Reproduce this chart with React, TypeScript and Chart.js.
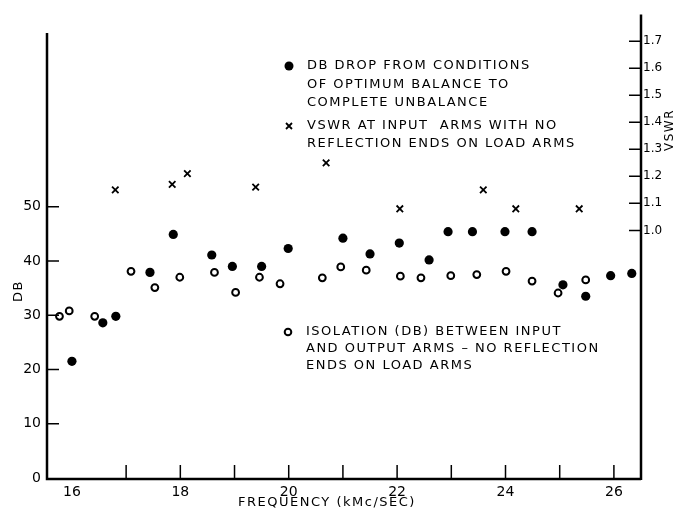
import React, { useEffect, useRef } from "react";
import { Chart, registerables } from "chart.js";

Chart.register(...registerables);

// DB drop from optimum balance to complete unbalance (filled circles)
const dropFreq = [16.0, 16.57, 16.81, 17.44, 17.87, 18.58, 18.96, 19.5, 19.99, 21.0, 21.5, 22.04, 22.59, 22.94, 23.39, 23.99, 24.49, 25.06, 25.48, 25.94, 26.33];
const dropDb = [21.5, 28.6, 29.8, 37.9, 44.9, 41.1, 39.0, 39.0, 42.3, 44.2, 41.3, 43.3, 40.2, 45.4, 45.4, 45.4, 45.4, 35.6, 33.5, 37.3, 37.7];

// Isolation (DB) between input and output arms (open circles)
const isoFreq = [15.77, 15.95, 16.42, 17.09, 17.53, 17.99, 18.63, 19.02, 19.46, 19.84, 20.62, 20.96, 21.43, 22.06, 22.44, 22.99, 23.47, 24.01, 24.49, 24.97, 25.48];
const isoDb = [29.8, 30.8, 29.8, 38.1, 35.1, 37.0, 37.9, 34.2, 37.0, 35.8, 36.9, 38.9, 38.3, 37.2, 36.9, 37.3, 37.5, 38.1, 36.3, 34.1, 36.5];

// VSWR at input arms (x marks, right axis)
const vswrFreq = [16.8, 17.85, 18.13, 19.39, 20.69, 22.05, 23.59, 24.19, 25.36];
const vswrVal = [1.15, 1.17, 1.21, 1.16, 1.25, 1.08, 1.15, 1.08, 1.08];

// Axis ticks
const freqTicks = [16, 17, 18, 19, 20, 21, 22, 23, 24, 25, 26];
const freqLabelled = [16, 18, 20, 22, 24, 26];
const dbTicks = [0, 10, 20, 30, 40, 50];
const vswrTicks = [1.0, 1.1, 1.2, 1.3, 1.4, 1.5, 1.6, 1.7];

const FONT = "'DejaVu Sans', sans-serif";

const legendDrop = ["DB DROP FROM CONDITIONS", "OF OPTIMUM BALANCE TO", "COMPLETE UNBALANCE"];
const legendVswr = ["VSWR AT INPUT  ARMS WITH NO", "REFLECTION ENDS ON LOAD ARMS"];
const legendIso = ["ISOLATION (DB) BETWEEN INPUT", "AND OUTPUT ARMS \u2013 NO REFLECTION", "ENDS ON LOAD ARMS"];

const decorPlugin = {
  id: "decor",
  afterDraw(chart: any) {
    const ctx = chart.ctx as CanvasRenderingContext2D;
    const { left, right, top, bottom } = chart.chartArea;
    const xs = chart.scales.x;
    const ys = chart.scales.y;
    const y2 = chart.scales.y2;
    ctx.save();
    ctx.strokeStyle = "#000";
    ctx.fillStyle = "#000";
    ctx.lineCap = "butt";

    // axis lines
    ctx.lineWidth = 2.5;
    ctx.beginPath();
    ctx.moveTo(left, ys.getPixelForValue(82));
    ctx.lineTo(left, bottom + 1);
    ctx.lineTo(right, bottom + 1);
    ctx.moveTo(right, top);
    ctx.lineTo(right, bottom + 2);
    ctx.stroke();

    // inward tick marks
    ctx.lineWidth = 1.5;
    ctx.beginPath();
    freqTicks.forEach((v) => {
      if (v === 16) return;
      const px = xs.getPixelForValue(v);
      ctx.moveTo(px, bottom);
      ctx.lineTo(px, bottom - 13);
    });
    dbTicks.forEach((v) => {
      if (v === 0) return;
      const py = ys.getPixelForValue(v);
      ctx.moveTo(left, py);
      ctx.lineTo(left + 12, py);
    });
    vswrTicks.forEach((v) => {
      const py = y2.getPixelForValue(v);
      ctx.moveTo(right, py);
      ctx.lineTo(right - 12, py);
    });
    ctx.stroke();

    // texts
    (ctx as any).letterSpacing = "1.5px";
    ctx.font = `13px ${FONT}`;
    ctx.textBaseline = "middle";
    ctx.textAlign = "left";

    const drawLines = (lines: string[], x: number, y: number, dy: number) => {
      lines.forEach((s, i) => ctx.fillText(s, x, y + i * dy));
    };
    drawLines(legendDrop, 307, 66, 18.5);
    drawLines(legendVswr, 307, 126, 17.5);
    drawLines(legendIso, 306, 332, 17);

    // legend symbols
    ctx.beginPath();
    ctx.arc(289, 66, 4.5, 0, Math.PI * 2);
    ctx.fill();
    ctx.lineWidth = 1.8;
    ctx.beginPath();
    ctx.moveTo(286, 123);
    ctx.lineTo(292, 129);
    ctx.moveTo(292, 123);
    ctx.lineTo(286, 129);
    ctx.stroke();
    ctx.lineWidth = 2;
    ctx.beginPath();
    ctx.arc(288, 332, 3.3, 0, Math.PI * 2);
    ctx.stroke();

    // axis titles
    ctx.textAlign = "center";
    ctx.font = `13px ${FONT}`;
    ctx.fillText("FREQUENCY (kMc/SEC)", 327, 503);

    ctx.save();
    ctx.translate(19, 291);
    ctx.rotate(-Math.PI / 2);
    ctx.fillText("DB", 0, 0);
    ctx.restore();

    ctx.save();
    ctx.translate(670, 130);
    ctx.rotate(-Math.PI / 2);
    ctx.font = `12px ${FONT}`;
    (ctx as any).letterSpacing = "1.5px";
    ctx.fillText("VSWR", 0, 0);
    ctx.restore();

    (ctx as any).letterSpacing = "0px";
    ctx.restore();
  },
};

export default function App() {
  const ref = useRef<HTMLCanvasElement | null>(null);

  useEffect(() => {
    if (!ref.current) return;
    const tickFont = { family: FONT, size: 14 };
    const chart = new Chart(ref.current, {
      type: "scatter",
      data: {
        datasets: [
          {
            label: "DB drop",
            data: dropFreq.map((f, i) => ({ x: f, y: dropDb[i] })),
            yAxisID: "y",
            pointStyle: "circle",
            pointRadius: 4.6,
            pointBackgroundColor: "#000",
            pointBorderColor: "#000",
            pointBorderWidth: 0,
            showLine: false,
          },
          {
            label: "VSWR",
            data: vswrFreq.map((f, i) => ({ x: f, y: vswrVal[i] })),
            yAxisID: "y2",
            pointStyle: "crossRot",
            pointRadius: 4.6,
            pointBorderColor: "#000",
            pointBorderWidth: 1.8,
            showLine: false,
          },
          {
            label: "Isolation",
            data: isoFreq.map((f, i) => ({ x: f, y: isoDb[i] })),
            yAxisID: "y",
            pointStyle: "circle",
            pointRadius: 3.4,
            pointBackgroundColor: "#fff",
            pointBorderColor: "#000",
            pointBorderWidth: 2,
            showLine: false,
          },
        ],
      },
      options: {
        responsive: false,
        animation: false,
        devicePixelRatio: 1,
        layout: { padding: { top: 8, left: 0, right: 0, bottom: 0 }, autoPadding: false },
        plugins: { legend: { display: false }, tooltip: { enabled: false } },
        events: [],
        scales: {
          x: {
            type: "linear",
            position: "bottom",
            min: 15.54,
            max: 26.5,
            afterBuildTicks: (s: any) => {
              s.ticks = freqTicks.map((v) => ({ value: v }));
            },
            afterFit: (s: any) => {
              s.height = 35;
            },
            grid: { display: false, drawTicks: false },
            border: { display: false },
            ticks: {
              autoSkip: false,
              maxRotation: 0,
              padding: 6,
              color: "#000",
              font: tickFont,
              callback: (v: any) => (freqLabelled.includes(Number(v)) ? String(v) : ""),
            },
          },
          y: {
            type: "linear",
            position: "left",
            min: 0,
            max: 85.45,
            afterBuildTicks: (s: any) => {
              s.ticks = dbTicks.map((v) => ({ value: v }));
            },
            afterFit: (s: any) => {
              s.width = 47;
            },
            grid: { display: false, drawTicks: false },
            border: { display: false },
            ticks: { padding: 6, color: "#000", font: tickFont, callback: (v: any) => String(v) },
          },
          y2: {
            type: "linear",
            position: "right",
            min: 0.084,
            max: 1.799,
            afterBuildTicks: (s: any) => {
              s.ticks = vswrTicks.map((v) => ({ value: v }));
            },
            afterFit: (s: any) => {
              s.width = 38;
            },
            grid: { display: false, drawTicks: false },
            border: { display: false },
            ticks: {
              padding: 2,
              color: "#000",
              font: { family: FONT, size: 12 },
              callback: (v: any) => Number(v).toFixed(1),
            },
          },
        },
      },
      plugins: [decorPlugin],
    } as any);
    return () => chart.destroy();
  }, []);

  return (
    <div style={{ position: "fixed", left: 0, top: 0, width: 679, height: 513, background: "#fff" }}>
      <canvas ref={ref} width={679} height={513} style={{ display: "block", width: 679, height: 513 }} />
    </div>
  );
}
